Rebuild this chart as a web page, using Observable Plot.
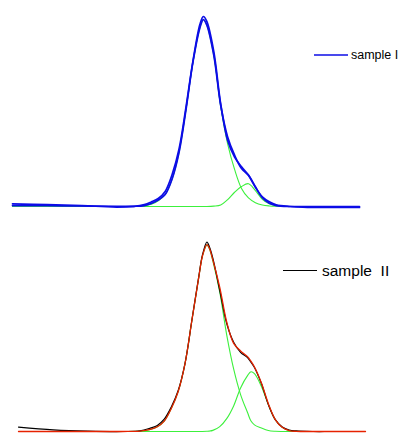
<!DOCTYPE html>
<html>
<head>
<meta charset="utf-8">
<script src="https://cdn.jsdelivr.net/npm/d3@7"></script>
<script src="https://cdn.jsdelivr.net/npm/@observablehq/plot@0.6"></script>
<style>
  html, body { margin: 0; padding: 0; background: #fff; }
  #wrap { position: relative; width: 409px; height: 433px; overflow: hidden; background: #fff; }
  #wrap > svg, #wrap > div { position: absolute; left: 0; }
</style>
</head>
<body>
<div id="wrap"></div>
<script>
// ---------- Sample I (top panel) ----------
const xTop = [0,10,20,30,35,38,40,42,44,46,48,50,52,54,55,56,58,60,62,64,66,68,70,72,74,76,80,85,90,100];
const dataI = [1.4,1.0,0.5,-0.3,0.1,1.0,2.4,4.2,7.9,16.8,30.3,52.3,76.5,95.8,100,97.4,81.6,54,34.7,26,20.9,16.4,10.1,5.1,2.5,0.9,0,-0.5,-0.5,-0.5];
const fitI = [0.5,0.4,0.3,0.1,0.1,0.5,1.6,3.4,6.3,14.5,28.5,51,76,94,98.4,95.5,79.7,53.3,36.6,27,20,16.5,10.4,4.6,1.7,0.5,0,0,0,0];
const mainI = [0,0,0,0,0,0.4,1.2,3.0,6.3,14.5,28.5,51,76,94,98.4,95.5,79.5,52.5,33,19.5,9.5,4.5,2.0,0.8,0.3,0.1,0,0,0,0];
const smallI = [0,0,0,0,0,0,0,0,0,0,0,0,0,0,0,0,0.2,0.8,3.6,7.5,10.5,12,8.4,3.8,1.4,0.4,0,0,0,0];

// ---------- Sample II (bottom panel) ----------
const xBot = [0,10,20,30,35,38,40,42,44,46,48,50,52,53,54.3,55,56,58,60,62,64,66,67,68,70,72,74,76,78,80,85,90,100];
const dataII = [2.3,0.9,0.2,0,0.3,1.8,3.2,6.5,12.8,21.5,36,59.1,82.3,93,100,97.5,91.5,74.4,57,47.1,41.8,39,36.6,33.8,25.3,14.2,6.3,2.4,0.8,0.3,0,0,0];
const fitII = [0,0,0,0,0.2,1.1,2.5,5.5,12,21,36,59,82,92.5,98.6,96.7,90.6,76.1,57.8,46.5,42.5,39.5,37,34,25.6,14.7,6.3,2.2,0.5,0.1,0,0,0];
const mainII = [0,0,0,0,0.2,1.1,2.5,5.5,12,21,36,59,82,92.5,98.5,96.5,90,73.5,51,33,19.5,10,5.5,3.5,1.8,0.5,0.1,0,0,0,0,0,0];
const smallII = [0,0,0,0,0,0,0,0,0,0,0,0,0,0,0.1,0.2,0.6,2.6,6.8,13.5,23,29.5,31.5,30.5,23.8,14.2,6.2,2.2,0.5,0.1,0,0,0];

const legendLabels = ["sample I", "sample  II"];

const BLUE = "#0c0ce6", GREEN = "#3cf03c", RED = "#e62200", BLACK = "#000000";

function rows(xs, ys) { return xs.map((x, i) => ({x, y: ys[i]})); }

const curve = "catmull-rom";
const topPlot = Plot.plot({
  width: 409, height: 215,
  marginLeft: 12, marginRight: 50, marginTop: 16, marginBottom: 9,
  x: {domain: [0, 100], axis: null},
  y: {domain: [0, 100], axis: null},
  style: {background: "transparent", overflow: "visible"},
  marks: [
    Plot.line(rows(xTop, mainI), {x: "x", y: "y", stroke: GREEN, strokeWidth: 1.1, curve}),
    Plot.line(rows(xTop, smallI), {x: "x", y: "y", stroke: GREEN, strokeWidth: 1.1, curve}),
    Plot.line(rows(xTop, fitI), {x: "x", y: "y", stroke: BLUE, strokeWidth: 1.7, curve}),
    Plot.line(rows(xTop, dataI), {x: "x", y: "y", stroke: BLUE, strokeWidth: 1.7, curve})
  ]
});
topPlot.style.top = "0px";

const botPlot = Plot.plot({
  width: 409, height: 218,
  marginLeft: 18, marginRight: 44, marginTop: 26.5, marginBottom: 2,
  x: {domain: [0, 100], axis: null},
  y: {domain: [0, 100], axis: null},
  style: {background: "transparent", overflow: "visible"},
  marks: [
    Plot.line(rows(xBot, mainII), {x: "x", y: "y", stroke: GREEN, strokeWidth: 1.1, curve}),
    Plot.line(rows(xBot, smallII), {x: "x", y: "y", stroke: GREEN, strokeWidth: 1.1, curve}),
    Plot.line(rows(xBot, dataII), {x: "x", y: "y", stroke: BLACK, strokeWidth: 1.2, curve}),
    Plot.line(rows(xBot, fitII), {x: "x", y: "y", stroke: RED, strokeWidth: 1.3, curve})
  ]
});
botPlot.style.top = "215px";

const wrap = document.getElementById("wrap");
wrap.appendChild(topPlot);
wrap.appendChild(botPlot);

// Legends (overlay)
const leg = d3.create("svg").attr("width", 409).attr("height", 433)
  .style("position", "absolute").style("left", "0px").style("top", "0px")
  .style("pointer-events", "none");
leg.append("line").attr("x1", 314).attr("x2", 348).attr("y1", 55).attr("y2", 55)
  .attr("stroke", BLUE).attr("stroke-width", 1.6);
leg.append("text").attr("x", 351).attr("y", 55).attr("dy", "0.35em")
  .attr("font-family", "Liberation Sans, Arial, sans-serif").attr("font-size", 12.5)
  .attr("fill", "#000").text(legendLabels[0]);
leg.append("line").attr("x1", 283).attr("x2", 317).attr("y1", 270.5).attr("y2", 270.5)
  .attr("stroke", BLACK).attr("stroke-width", 1);
leg.append("text").attr("x", 322).attr("y", 270.5).attr("dy", "0.35em")
  .attr("font-family", "Liberation Sans, Arial, sans-serif").attr("font-size", 15.5)
  .attr("xml:space", "preserve").style("white-space", "pre")
  .attr("fill", "#000").text(legendLabels[1]);
wrap.appendChild(leg.node());
</script>
</body>
</html>
